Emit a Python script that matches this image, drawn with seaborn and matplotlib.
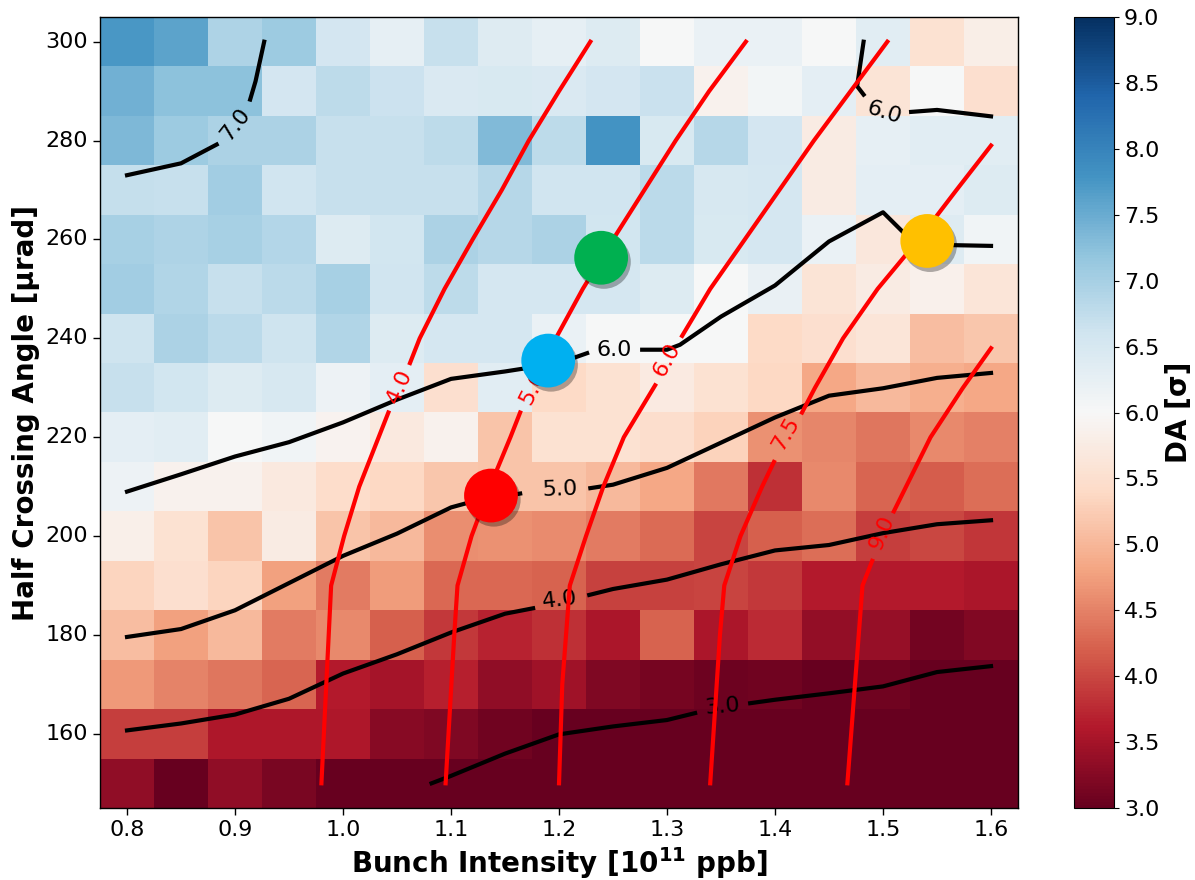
import numpy as np
import pandas as pd
import matplotlib
matplotlib.use("Agg")
import matplotlib.pyplot as plt
import matplotlib.patheffects as pe
from matplotlib.transforms import Affine2D
import seaborn as sns

# =========================================
# DATA
# =========================================

intensity = [0.80, 0.85, 0.90, 0.95, 1.00, 1.05, 1.10, 1.15, 1.20,
             1.25, 1.30, 1.35, 1.40, 1.45, 1.50, 1.55, 1.60]
angle = [300, 290, 280, 270, 260, 250, 240, 230,
         220, 210, 200, 190, 180, 170, 160, 150]

# DA [sigma], one row per crossing angle (top row = 300 urad)
da = [
    [7.75, 7.60, 6.92, 7.10, 6.55, 6.28, 6.70, 6.38, 6.27, 6.40, 6.00, 6.20, 6.20, 6.02, 6.33, 5.55, 5.80],
    [7.45, 7.22, 7.22, 6.55, 6.78, 6.65, 6.45, 6.48, 6.45, 6.55, 6.67, 5.86, 6.08, 6.30, 5.58, 6.00, 5.50],
    [7.35, 7.10, 6.95, 6.95, 6.70, 6.70, 6.78, 7.32, 6.78, 7.80, 6.48, 6.85, 6.55, 5.75, 6.28, 6.33, 6.33],
    [6.72, 6.68, 7.05, 6.60, 6.68, 6.68, 6.68, 6.85, 6.60, 6.60, 6.80, 6.50, 6.53, 5.75, 6.30, 6.30, 6.40],
    [7.00, 6.92, 7.00, 6.88, 6.40, 6.57, 6.95, 6.85, 6.95, 6.58, 6.80, 6.48, 6.53, 6.20, 5.65, 6.38, 6.10],
    [7.05, 6.90, 6.70, 6.80, 7.00, 6.60, 6.78, 6.53, 6.53, 6.53, 6.42, 6.00, 6.22, 5.60, 5.75, 5.85, 5.62],
    [6.62, 6.95, 6.80, 6.62, 6.90, 6.40, 6.53, 6.53, 6.20, 6.02, 6.02, 6.02, 5.40, 5.50, 5.62, 5.08, 5.17],
    [6.70, 6.57, 6.42, 6.50, 6.16, 6.30, 5.50, 6.33, 5.40, 5.55, 5.72, 5.55, 5.38, 4.85, 5.03, 4.90, 4.85],
    [6.30, 6.35, 6.02, 6.10, 5.90, 5.70, 5.87, 5.15, 5.55, 5.55, 5.48, 5.30, 4.63, 4.53, 4.40, 4.55, 4.48],
    [6.16, 5.87, 5.87, 5.70, 5.46, 5.38, 5.17, 5.15, 5.15, 5.03, 4.85, 4.42, 3.80, 4.55, 4.25, 4.18, 4.32],
    [5.82, 5.55, 5.15, 5.75, 5.15, 5.03, 4.60, 4.63, 4.58, 4.43, 4.30, 3.97, 4.20, 4.32, 3.93, 4.00, 3.85],
    [5.33, 5.50, 5.33, 4.78, 4.45, 4.72, 4.28, 4.28, 4.22, 3.95, 3.95, 3.97, 3.88, 3.62, 3.62, 3.62, 3.55],
    [5.08, 4.78, 5.03, 4.45, 4.55, 4.20, 3.88, 3.68, 3.80, 3.55, 4.22, 3.56, 3.75, 3.37, 3.38, 3.10, 3.22],
    [4.70, 4.52, 4.40, 4.25, 3.62, 3.50, 3.67, 3.33, 3.45, 3.19, 3.14, 3.05, 3.08, 3.00, 3.08, 3.00, 3.00],
    [3.93, 3.92, 3.58, 3.58, 3.58, 3.28, 3.21, 3.08, 3.00, 3.00, 3.00, 3.00, 3.00, 3.00, 3.00, 3.00, 3.00],
    [3.35, 3.00, 3.35, 3.15, 3.00, 3.00, 3.00, 3.00, 3.00, 3.00, 3.00, 3.00, 3.00, 3.00, 3.00, 3.00, 3.00],
]

# DA iso-lines (black), nan = gap for the inline label
da_levels = ["7.0", "6.0", "6.0", "5.0", "4.0", "3.0"]
da_x = [
    [0.80, 0.85, 0.883, np.nan, 0.914, 0.919, 0.927],
    [1.482, 1.476, 1.482, np.nan, 1.526, 1.55, 1.60],
    [0.80, 0.85, 0.90, 0.95, 1.00, 1.05, 1.10, 1.15, 1.20, 1.226, np.nan,
     1.277, 1.30, 1.312, 1.35, 1.40, 1.45, 1.50, 1.53, 1.60],
    [0.80, 0.85, 0.90, 0.95, 1.00, 1.05, 1.10, 1.115, 1.164, np.nan,
     1.229, 1.25, 1.30, 1.35, 1.40, 1.45, 1.50, 1.55, 1.60],
    [0.80, 0.85, 0.90, 0.95, 1.00, 1.05, 1.10, 1.15, 1.176, np.nan,
     1.228, 1.25, 1.30, 1.35, 1.40, 1.45, 1.50, 1.55, 1.60],
    [1.082, 1.10, 1.15, 1.20, 1.25, 1.30, 1.326, np.nan,
     1.377, 1.40, 1.45, 1.50, 1.55, 1.60],
]
da_y = [
    [273.0, 275.4, 279.2, np.nan, 288.3, 292.0, 300.0],
    [300.0, 291.0, 289.3, np.nan, 285.8, 286.2, 284.9],
    [209.0, 212.5, 216.1, 219.0, 223.0, 227.6, 231.8, 233.3, 235.0, 237.0, np.nan,
     237.7, 237.7, 238.7, 244.4, 250.7, 259.6, 265.5, 259.0, 258.7],
    [179.6, 181.2, 185.0, 190.5, 196.0, 200.5, 205.8, 206.7, 208.6, np.nan,
     209.7, 210.4, 213.8, 218.9, 224.0, 228.4, 229.9, 232.0, 233.0],
    [160.7, 162.1, 163.9, 167.1, 172.2, 176.1, 180.5, 184.3, 185.4, np.nan,
     188.1, 189.3, 191.2, 194.3, 197.1, 198.2, 200.6, 202.4, 203.2],
    [150.0, 151.5, 156.0, 159.9, 161.5, 162.8, 164.2, np.nan,
     166.2, 166.9, 168.2, 169.6, 172.5, 173.7],
]
da_lab_x = [0.900, 1.501, 1.251, 1.201, 1.201, 1.351]
da_lab_y = [283.2, 285.6, 237.7, 209.4, 187.0, 165.6]
da_lab_rot = [52, -18, 0, 2, 7, 5]

# red iso-lines
red_levels = ["4.0", "5.0", "6.0", "7.5", "9.0"]
red_x = [
    [0.980, 0.989, 1.001, 1.015, 1.033, 1.042, np.nan, 1.062, 1.071, 1.094,
     1.120, 1.147, 1.172, 1.200, 1.229],
    [1.095, 1.103, 1.106, 1.119, 1.136, 1.155, 1.164, np.nan, 1.189, 1.197,
     1.222, 1.250, 1.279, 1.308, 1.339, 1.373],
    [1.200, 1.203, 1.210, 1.225, 1.241, 1.260, 1.289, np.nan, 1.314, 1.340,
     1.372, 1.404, 1.436, 1.470, 1.504],
    [1.340, 1.349, 1.353, 1.368, 1.388, 1.399, np.nan, 1.425, 1.437, 1.463,
     1.495, 1.533, 1.568, 1.600],
    [1.467, 1.481, 1.490, np.nan, 1.510, 1.544, 1.574, 1.600],
]
red_y = [
    [150, 190, 200, 210, 220, 225, np.nan, 235, 240, 250, 260, 270, 280, 290, 300],
    [150, 180, 190, 200, 210, 220, 225, np.nan, 236, 240, 250, 260, 270, 280, 290, 300],
    [150, 170, 190, 200, 210, 220, 230.5, np.nan, 240.5, 250, 260, 270, 280, 290, 300],
    [150, 180, 190, 200, 210, 215, np.nan, 225, 230, 240, 250, 260, 270, 279],
    [150, 190, 195, np.nan, 205, 220, 230, 238],
]
red_lab_x = [1.052, 1.176, 1.300, 1.410, 1.499]
red_lab_y = [230.3, 230.0, 235.7, 220.8, 200.7]
red_lab_rot = [66, 63, 61, 60, 67]

# working points
wp_x = [1.137, 1.190, 1.239, 1.541]
wp_y = [208.2, 235.5, 256.3, 259.7]
wp_colors = ["#ff0000", "#00b0f0", "#00b050", "#ffc000"]

# =========================================
# FIGURE
# =========================================

fig = plt.figure(figsize=(11.95, 8.8), dpi=100)
ax = fig.add_axes([0.0837, 0.0818, 0.7682, 0.8989])
cax = fig.add_axes([0.899, 0.0818, 0.0335, 0.8989])

df = pd.DataFrame(da, index=angle, columns=intensity)

sns.heatmap(
    df,
    ax=ax,
    cmap="RdBu",
    vmin=3,
    vmax=9,
    cbar_ax=cax,
    cbar_kws={"ticks": np.arange(3.0, 9.01, 0.5)}
)

# data coords -> heatmap cell index coords
tr = Affine2D().scale(20, -0.1).translate(-15.5, 30.5) + ax.transData

# black DA lines
for xs, ys in zip(da_x, da_y):
    ax.plot(xs, ys, color="black", lw=3, transform=tr, zorder=3)

for s, x, y, r in zip(da_levels, da_lab_x, da_lab_y, da_lab_rot):
    ax.text(x, y, s, transform=tr, rotation=r, rotation_mode="anchor",
            ha="center", va="center", fontsize=16, color="black", zorder=3)

# red lines
for xs, ys in zip(red_x, red_y):
    ax.plot(xs, ys, color="red", lw=3, transform=tr, zorder=3)

for s, x, y, r in zip(red_levels, red_lab_x, red_lab_y, red_lab_rot):
    ax.text(x, y, s, transform=tr, rotation=r, rotation_mode="anchor",
            ha="center", va="center", fontsize=16, color="red", zorder=3)

# working points
ax.scatter(
    wp_x, wp_y,
    s=1500,
    c=wp_colors,
    transform=tr,
    zorder=5,
    linewidths=0,
    path_effects=[pe.SimplePatchShadow(offset=(2, -3), shadow_rgbFace="black", alpha=0.3),
                  pe.Normal()]
)

# =========================================
# AXES
# =========================================

xt = [0.8, 0.9, 1.0, 1.1, 1.2, 1.3, 1.4, 1.5, 1.6]
yt = [160, 180, 200, 220, 240, 260, 280, 300]

ax.set_xticks([20 * v - 15.5 for v in xt])
ax.set_xticklabels([f"{v:.1f}" for v in xt], rotation=0, fontsize=16)
ax.set_yticks([30.5 - 0.1 * v for v in yt])
ax.set_yticklabels([str(v) for v in yt], rotation=0, fontsize=16)
ax.tick_params(axis="both", direction="out", length=5, width=1)

ax.set_xlim(0, 17)
ax.set_ylim(16, 0)

for sp in ax.spines.values():
    sp.set_visible(True)
    sp.set_linewidth(1)
    sp.set_color("black")

ax.set_xlabel("Bunch Intensity [$\\mathbf{10^{11}}$ ppb]", fontsize=20, fontweight="bold")
ax.set_ylabel("Half Crossing Angle [µrad]", fontsize=20, fontweight="bold")

cax.tick_params(labelsize=16)
cax.set_ylabel("DA [σ]", fontsize=20, fontweight="bold")
cb = ax.collections[0].colorbar
cb.outline.set_linewidth(0.8)
cb.outline.set_edgecolor("black")

plt.savefig("out.png", dpi=100)
